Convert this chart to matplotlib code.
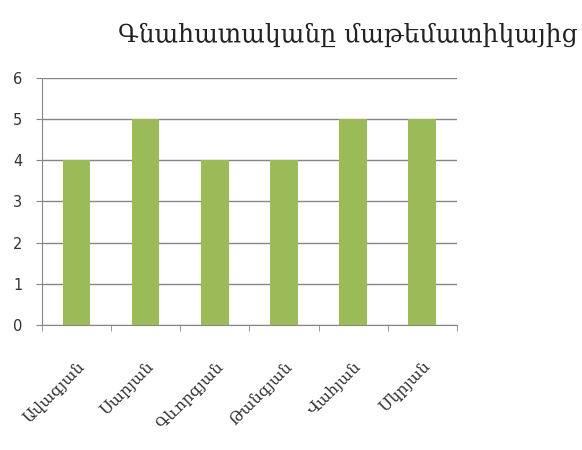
import matplotlib.pyplot as plt
import numpy as np

names = ["Ավագյան", "Սարյան", "Գևորգյան", "Թանգյան", "Վահյան", "Մկրյան"]
scores = [4, 5, 4, 4, 5, 5]
title = "Գնահատականը մաթեմատիկայից"

bar_green = "#9BBB59"
grid_grey = "#868686"

fig = plt.figure(figsize=(5.82, 4.5), dpi=100)
ax = fig.add_axes([0.072, 0.278, 0.713, 0.549])

x = np.arange(len(names))
ax.bar(x, scores, width=0.4, color=bar_green, zorder=3)

ax.set_xlim(-0.5, len(names) - 0.5)
ax.set_ylim(0, 6)
ax.set_yticks(range(0, 7))
ax.yaxis.grid(True, color=grid_grey, linewidth=1, zorder=0)

ax.set_xticks(x)
ax.set_xticklabels(names, rotation=45, ha="right", rotation_mode="anchor",
                   family="DejaVu Serif", fontsize=11.5, color="#333333")
for lbl in ax.get_xticklabels():
    lbl.set_transform(lbl.get_transform() +
                      plt.matplotlib.transforms.ScaledTranslation(0.13, 0, fig.dpi_scale_trans))
ax.set_xticks(np.arange(-0.5, len(names)), minor=True)
ax.tick_params(axis="x", which="major", length=0, pad=24)
ax.tick_params(axis="x", which="minor", length=4, color=grid_grey)
ax.tick_params(axis="y", length=4, color=grid_grey, labelsize=10.5, pad=10,
               labelcolor="#333333")

for s in ["top", "right"]:
    ax.spines[s].set_visible(False)
ax.spines["left"].set_color(grid_grey)
ax.spines["bottom"].set_color(grid_grey)

fig.text(0.598, 0.922, title, ha="center", va="center",
         family="DejaVu Serif", fontsize=18, color="#222222")

fig.savefig("out.png")
